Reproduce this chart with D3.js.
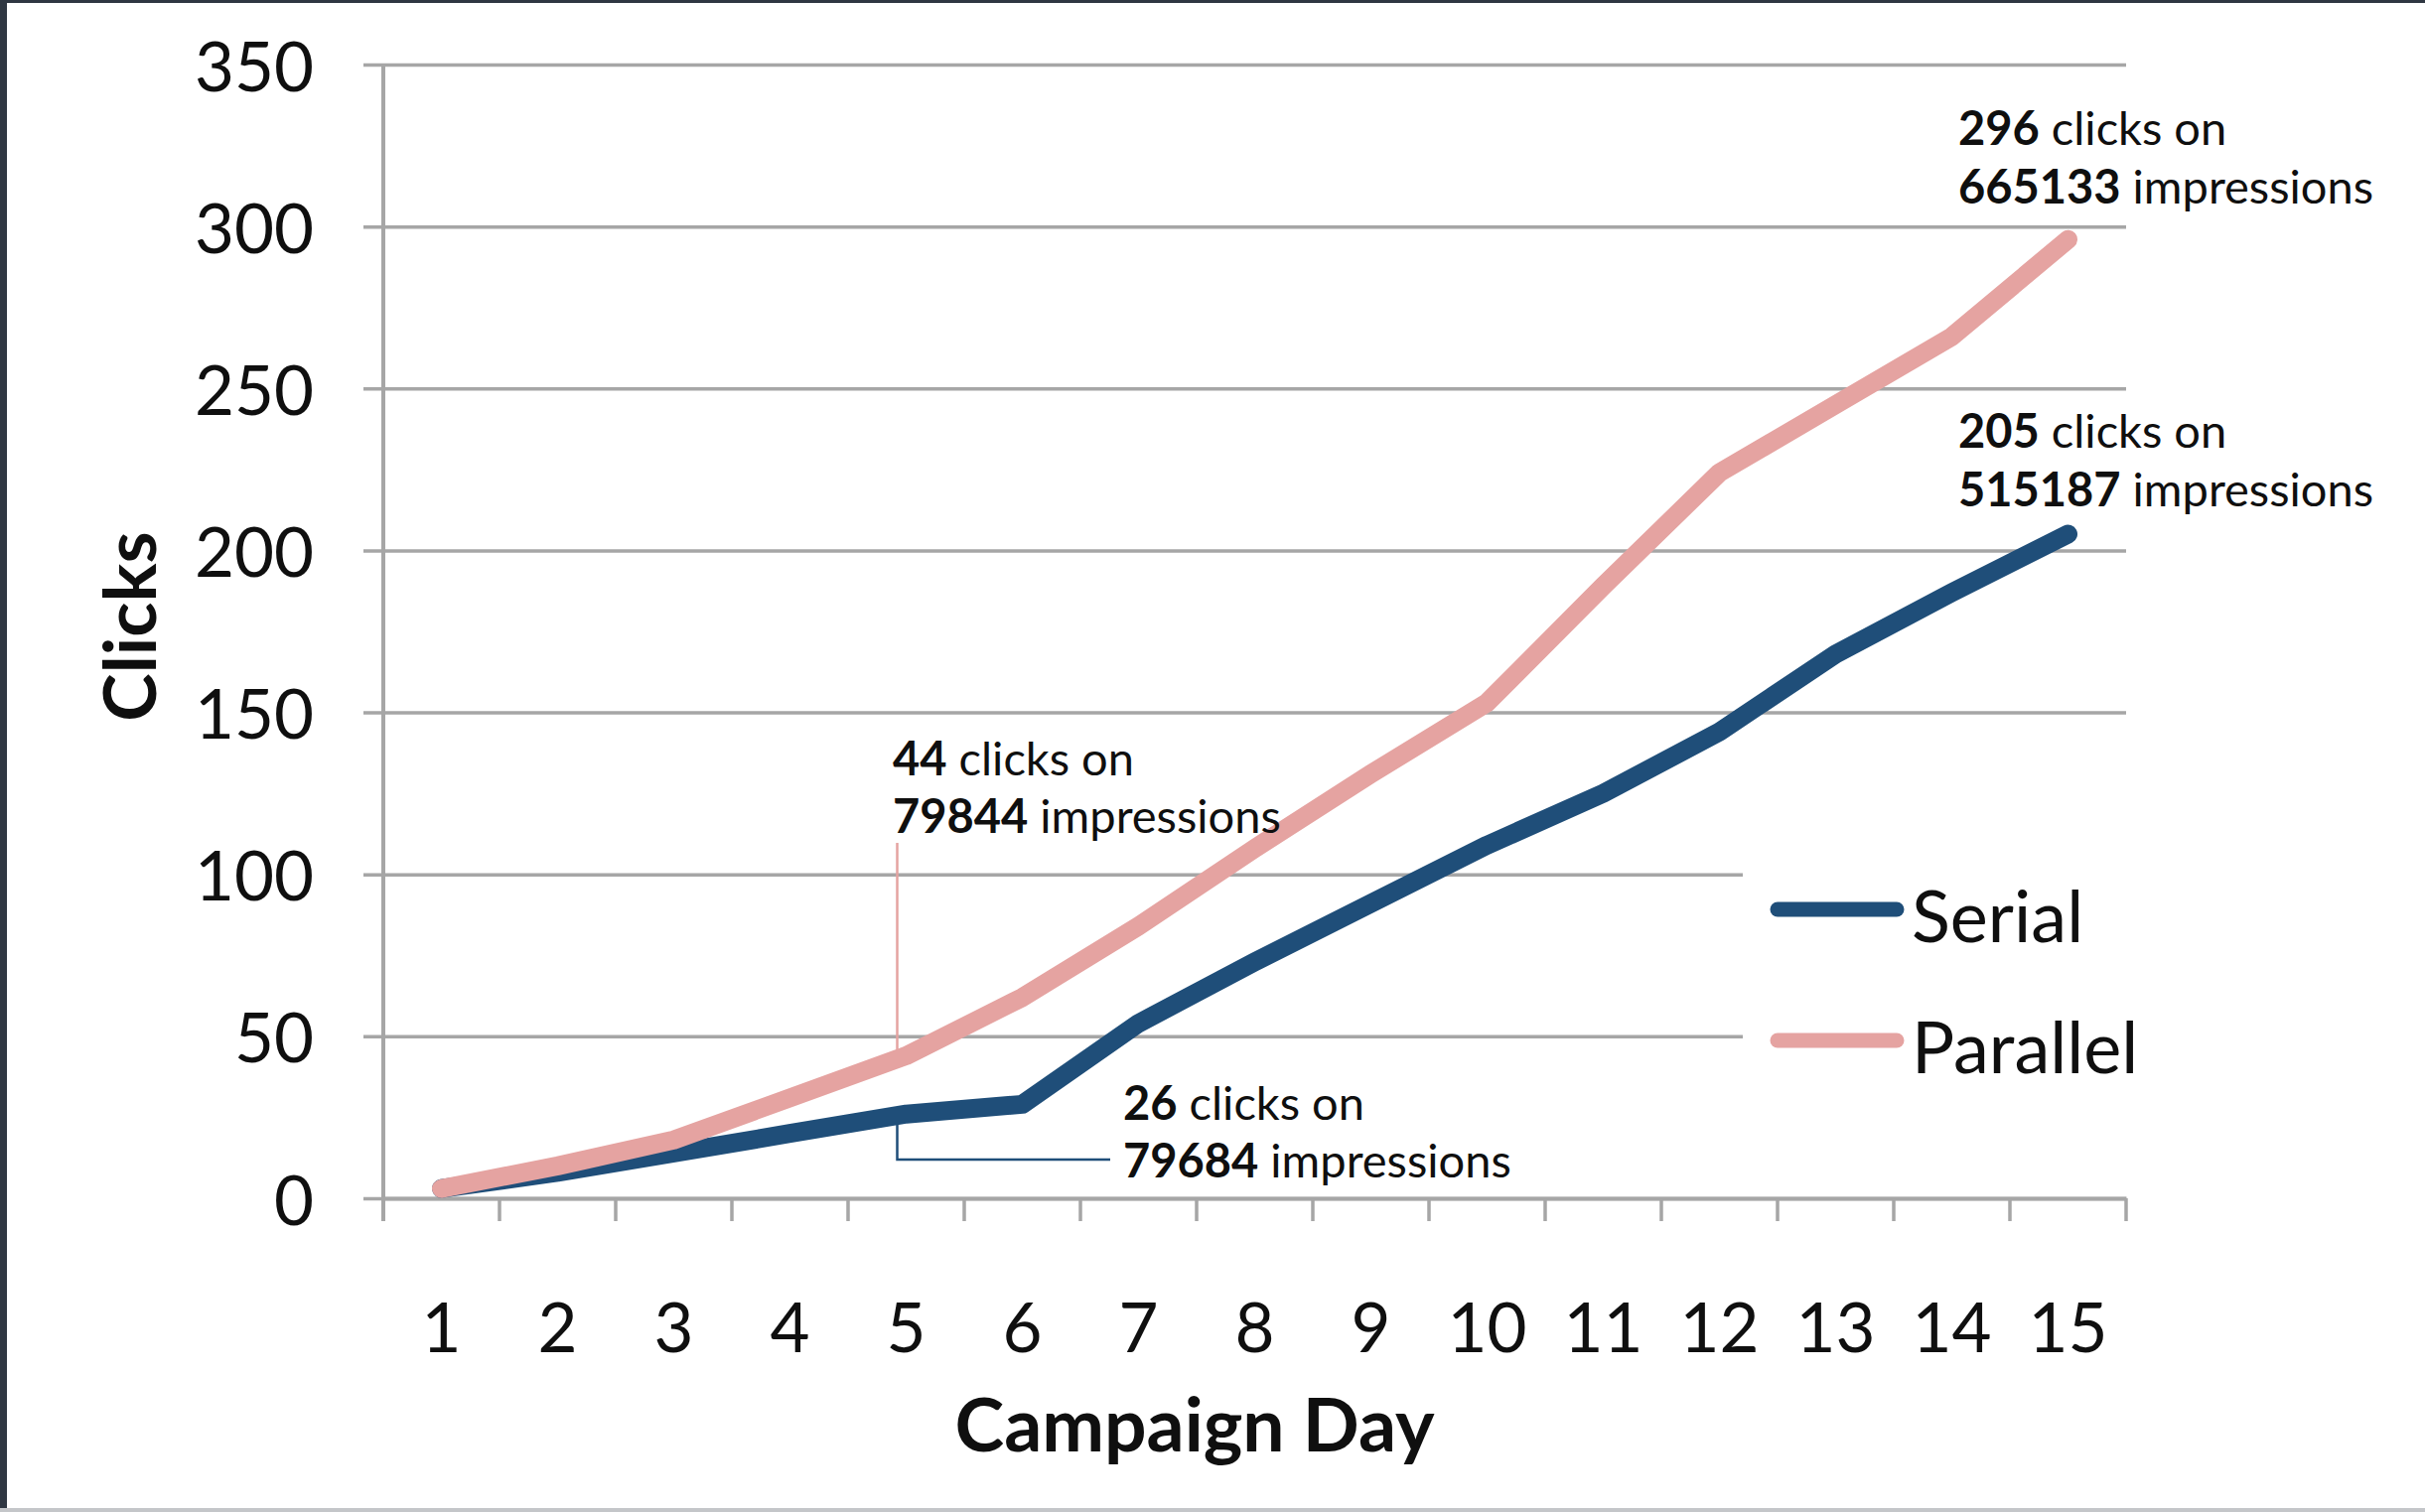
<!DOCTYPE html>
<html>
<head>
<meta charset="utf-8">
<script src="https://cdn.jsdelivr.net/npm/d3@7"></script>
<style>
  html, body { margin: 0; padding: 0; background: #ffffff; }
  svg { display: block; }
  text { font-family: Lato, "Noto Sans", sans-serif; fill: #0f0f0f; }
</style>
</head>
<body>
<svg id="chart" width="2442" height="1523"></svg>
<script>
// ---- data ----
const days = [1, 2, 3, 4, 5, 6, 7, 8, 9, 10, 11, 12, 13, 14, 15];
const serial = [3, 8, 14, 20, 26, 29, 54, 73, 91, 109, 125, 144, 168, 187, 205];
const parallel = [3, 10, 18, 31, 44, 62, 84, 108, 131, 153, 189, 224, 245, 266, 296];
const seriesNames = ["Serial", "Parallel"];
const seriesColors = ["#1f4e79", "#e5a3a1"];
const yTicks = [0, 50, 100, 150, 200, 250, 300, 350];
const annotations = [
  { day: 5, series: "Parallel", bold: "44", rest: " clicks on", bold2: "79844", rest2: " impressions" },
  { day: 5, series: "Serial", bold: "26", rest: " clicks on", bold2: "79684", rest2: " impressions" },
  { day: 15, series: "Parallel", bold: "296", rest: " clicks on", bold2: "665133", rest2: " impressions" },
  { day: 15, series: "Serial", bold: "205", rest: " clicks on", bold2: "515187", rest2: " impressions" }
];

// ---- layout ----
const W = 2442, H = 1523;
const plot = { left: 386, right: 2141, top: 65, bottom: 1207 };
const svg = d3.select("#chart");

svg.append("rect").attr("x", 0).attr("y", 0).attr("width", W).attr("height", H).attr("fill", "#ffffff");
// dark frame edges of the screenshot
svg.append("rect").attr("x", 0).attr("y", 0).attr("width", 7).attr("height", H).attr("fill", "#2f3742");
svg.append("rect").attr("x", 0).attr("y", 0).attr("width", W).attr("height", 3).attr("fill", "#2f3742");
svg.append("rect").attr("x", 0).attr("y", H - 4).attr("width", W).attr("height", 4).attr("fill", "#c4c6c9");

const x = d3.scaleBand().domain(days).range([plot.left, plot.right]).padding(0);
const xc = d => x(d) + x.bandwidth() / 2;
const y = d3.scaleLinear().domain([0, 350]).range([plot.bottom, plot.top]);

const gridColor = "#a6a6a6";

// gridlines (extend 20px left of the y axis as ticks)
const gy = svg.append("g").attr("transform", `translate(${plot.right},0)`)
  .call(d3.axisLeft(y).tickValues(yTicks).tickSize(plot.right - plot.left + 20).tickFormat(""));
gy.select(".domain").remove();
gy.selectAll(".tick line").attr("stroke", gridColor).attr("stroke-width", 3.5);

// y tick labels
svg.append("g").selectAll("text").data(yTicks).join("text")
  .attr("x", 316).attr("y", d => y(d))
  .attr("text-anchor", "end").attr("dominant-baseline", "central")
  .attr("font-size", 69).text(d => d);

// y axis line
svg.append("line").attr("x1", plot.left).attr("x2", plot.left)
  .attr("y1", plot.top).attr("y2", plot.bottom + 23)
  .attr("stroke", gridColor).attr("stroke-width", 4);

// x axis ticks at category boundaries
const bounds = days.map(d => x(d)).concat([plot.right]);
svg.append("g").selectAll("line").data(bounds).join("line")
  .attr("x1", d => d).attr("x2", d => d)
  .attr("y1", plot.bottom).attr("y2", plot.bottom + 23)
  .attr("stroke", gridColor).attr("stroke-width", 3.5);

const gx = svg.append("g").attr("transform", `translate(0,${plot.bottom})`)
  .call(d3.axisBottom(x).tickSize(0).tickPadding(0));
gx.select(".domain").attr("stroke", gridColor).attr("stroke-width", 4);
gx.selectAll(".tick text")
  .attr("y", 128).attr("dy", null).attr("dominant-baseline", "central")
  .attr("font-size", 69).attr("font-family", "Lato, 'Noto Sans', sans-serif").attr("fill", "#0f0f0f");

// axis titles
svg.append("text").attr("x", 1203).attr("y", 1433)
  .attr("text-anchor", "middle").attr("dominant-baseline", "central")
  .attr("font-size", 75).attr("font-weight", 700).text("Campaign Day");
svg.append("text").attr("transform", "translate(129,631) rotate(-90)")
  .attr("text-anchor", "middle").attr("dominant-baseline", "central")
  .attr("font-size", 73).attr("font-weight", 700).text("Clicks");

// legend background (covers gridlines)
svg.append("rect").attr("x", 1755).attr("y", 860).attr("width", 420).attr("height", 230).attr("fill", "#ffffff");

// leader lines for day-5 annotations
const lx = xc(5) - 9;
svg.append("line").attr("x1", lx).attr("x2", lx).attr("y1", 849).attr("y2", y(parallel[4]))
  .attr("stroke", seriesColors[1]).attr("stroke-width", 2.5);
svg.append("polyline")
  .attr("points", `${lx},${y(serial[4])} ${lx},1168 1118,1168`)
  .attr("fill", "none").attr("stroke", seriesColors[0]).attr("stroke-width", 2.5);

// lines
const line = d3.line().x((d, i) => xc(days[i])).y(d => y(d));
[serial, parallel].forEach((s, i) => {
  svg.append("path").datum(s).attr("d", line)
    .attr("fill", "none").attr("stroke", seriesColors[i])
    .attr("stroke-width", 19).attr("stroke-linecap", "round").attr("stroke-linejoin", "round");
});

// annotations
const annPos = [
  { x: 899, y1: 763, y2: 821 },
  { x: 1131, y1: 1110, y2: 1168 },
  { x: 1972, y1: 128, y2: 187 },
  { x: 1972, y1: 433, y2: 492 }
];
annotations.forEach((a, i) => {
  const p = annPos[i];
  const t1 = svg.append("text").attr("x", p.x).attr("y", p.y1).attr("dominant-baseline", "central").attr("font-size", 47);
  t1.append("tspan").attr("font-weight", 700).text(a.bold);
  t1.append("tspan").text(a.rest);
  const t2 = svg.append("text").attr("x", p.x).attr("y", p.y2).attr("dominant-baseline", "central").attr("font-size", 47);
  t2.append("tspan").attr("font-weight", 700).text(a.bold2);
  t2.append("tspan").text(a.rest2);
});

// legend
const legY = [916, 1048];
seriesNames.forEach((n, i) => {
  svg.append("line").attr("x1", 1790).attr("x2", 1910).attr("y1", legY[i]).attr("y2", legY[i])
    .attr("stroke", seriesColors[i]).attr("stroke-width", 15).attr("stroke-linecap", "round");
  svg.append("text").attr("x", 1925).attr("y", legY[i] + 5).attr("dominant-baseline", "central")
    .attr("font-size", 72).text(n);
});
</script>
</body>
</html>
